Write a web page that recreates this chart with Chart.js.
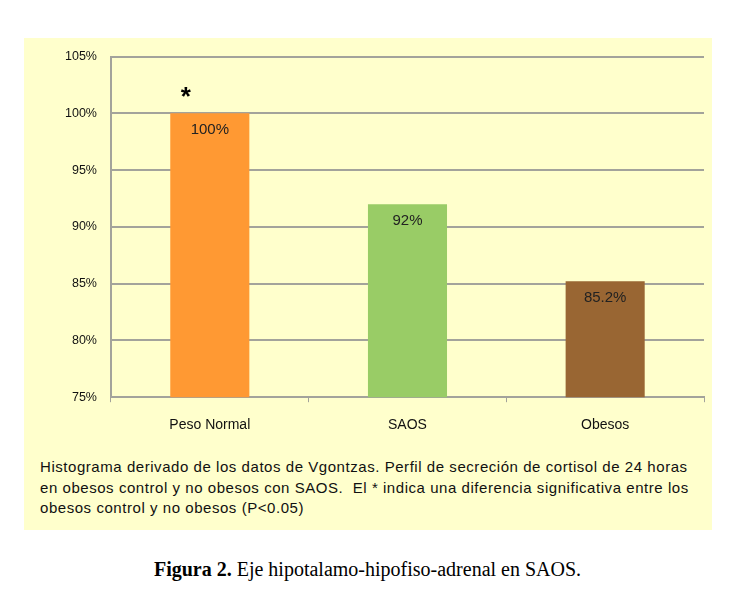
<!DOCTYPE html>
<html lang="es">
<head>
  <meta charset="UTF-8">
  <title>Eje hipotalamo-hipofiso-adrenal en SAOS</title>
  <script src="https://cdn.jsdelivr.net/npm/chart.js"></script>
  <style>
    body { margin: 0; background: #fff; width: 735px; height: 608px; position: relative; }
    #panel {
      position: absolute; left: 24px; top: 38px; width: 688px; height: 492px;
      background: #FFFFCC;
    }
    #chartBox { position: absolute; left: 0; top: -3px; width: 688px; height: 414px; }
    #nota {
      position: absolute; left: 16px; top: 419px; width: 670px;
      font-family: "Liberation Sans", Arial, sans-serif; font-size: 15px;
      line-height: 20.5px; color: #111; letter-spacing: 0.55px;
    }
    #figura {
      position: absolute; left: 0; top: 558px; width: 735px; text-align: center;
      font-family: "Liberation Serif", "Times New Roman", serif; font-size: 20px; color: #000;
    }
  </style>
</head>
<body>
<div id="panel">
  <div id="chartBox"><canvas id="grafico"></canvas></div>
  <div id="nota">Histograma derivado de los datos de Vgontzas. Perfil de secreción de cortisol de 24 horas en obesos control y no obesos con SAOS.&nbsp; El * indica una diferencia significativa entre los obesos control y no obesos (P&lt;0.05)</div>
</div>
<div id="figura"><b>Figura 2.</b> Eje hipotalamo-hipofiso-adrenal en SAOS.</div>
<script>
  // datos del gráfico
  const grupos = ['Peso Normal', 'SAOS', 'Obesos'];
  const valores = [100, 92, 85.2];
  const etiquetas = ['100%', '92%', '85.2%'];
  const marcas = ['*', '', ''];   // significancia
  const colores = ['#FF9933', '#99CC66', '#996633'];
  const ticksY = [75, 80, 85, 90, 95, 100, 105];

  // etiquetas dentro de las barras y asterisco
  const rotulos = {
    id: 'rotulos',
    afterDatasetsDraw(chart) {
      const ctx = chart.ctx;
      const meta = chart.getDatasetMeta(0);
      ctx.save();
      ctx.textAlign = 'center';
      meta.data.forEach((bar, i) => {
        ctx.fillStyle = '#222';
        ctx.font = '15px "Liberation Sans", Arial, sans-serif';
        ctx.textBaseline = 'top';
        ctx.fillText(etiquetas[i], bar.x, bar.y + 9);
        if (marcas[i]) {
          ctx.fillStyle = '#000';
          ctx.font = 'bold 26px "Liberation Sans", Arial, sans-serif';
          ctx.textBaseline = 'bottom';
          ctx.fillText(marcas[i], bar.x - 24, bar.y - 2);
        }
      });
      ctx.restore();
    }
  };

  const ctx = document.getElementById('grafico').getContext('2d');
  new Chart(ctx, {
    type: 'bar',
    data: {
      labels: grupos,
      datasets: [{
        data: valores,
        backgroundColor: colores,
        borderWidth: 0,
        barPercentage: 0.4,
        categoryPercentage: 1.0,
      }],
    },
    options: {
      responsive: true,
      maintainAspectRatio: false,
      animation: false,
      layout: { padding: { top: 7, right: 8, left: 27, bottom: 0 } },
      plugins: { legend: { display: false }, tooltip: { enabled: false } },
      scales: {
        y: {
          min: 75,
          max: 105,
          afterBuildTicks: (axis) => { axis.ticks = ticksY.map(v => ({ value: v })); },
          ticks: {
            callback: v => v + '%',
            color: '#111',
            font: { family: '"Liberation Sans", Arial, sans-serif', size: 12.5 },
            padding: 14,
          },
          grid: { color: '#A3A39B', lineWidth: 2, drawTicks: false },
          border: { color: '#A3A39B', width: 2 },
        },
        x: {
          ticks: {
            color: '#111',
            font: { family: '"Liberation Sans", Arial, sans-serif', size: 14 },
            padding: 15,
          },
          grid: { offset: true, drawOnChartArea: false, color: '#A3A39B', tickLength: 5, lineWidth: 1 },
          border: { color: '#A3A39B', width: 2 },
        },
      },
    },
    plugins: [rotulos],
  });
</script>
</body>
</html>
